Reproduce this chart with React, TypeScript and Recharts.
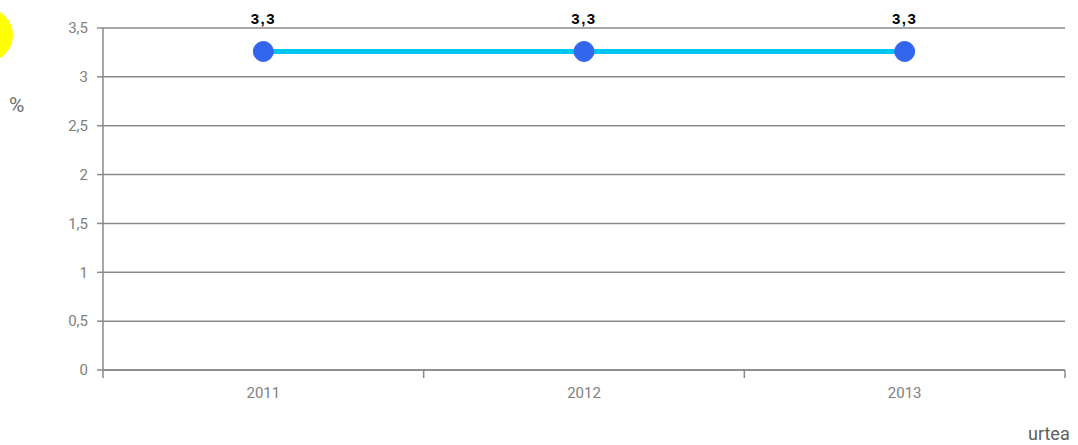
import React from 'react';
import { LineChart, Line, XAxis, YAxis, CartesianGrid, LabelList } from 'recharts';

// values
const years = ['2011', '2012', '2013'];
const values = [3.26, 3.26, 3.26];
const yTicks = [0, 0.5, 1, 1.5, 2, 2.5, 3, 3.5];

const data = years.map((year, i) => ({ year, val: values[i] }));

const comma = (v: number | string) => String(v).replace('.', ',');
const grey = '#8a8a8a';
const TICK_SIZE = 8;
const TICK_MARGIN = 9;

// category label plus tick marks on the band edges (offset = half band from the scale)
const YearTick = (props: any) => {
  const { x, y, payload, index, visibleTicksCount } = props;
  const half = payload?.offset ?? 0;
  const axisY = y - TICK_SIZE - TICK_MARGIN;
  const isLast = index === (visibleTicksCount ?? years.length) - 1;
  return (
    <g>
      <line x1={x - half} x2={x - half} y1={axisY} y2={axisY + TICK_SIZE} stroke={grey} strokeWidth={1.5} />
      {isLast && <line x1={x + half} x2={x + half} y1={axisY} y2={axisY + TICK_SIZE} stroke={grey} strokeWidth={1.5} />}
      <text x={x} y={y} dy="0.71em" textAnchor="middle" fill="#808080" fontSize={15}>
        {payload.value}
      </text>
    </g>
  );
};

export default function App() {
  return (
    <div style={{ position: 'fixed', left: 0, top: 0, width: 1078, height: 445, background: '#fff', overflow: 'hidden', fontFamily: 'Roboto, sans-serif' }}>
      {/* yellow badge peeking in from the left edge */}
      <div style={{ position: 'absolute', left: -41, top: 8, width: 54, height: 54, borderRadius: '50%', background: '#ffff00' }} />
      <div style={{ position: 'absolute', left: 9, top: 93, fontSize: 21, color: '#707070' }}>%</div>
      <div style={{ position: 'absolute', left: 1028, top: 423, fontSize: 18, color: '#606060' }}>urtea</div>

      <LineChart width={1078} height={445} data={data} margin={{ top: 28, right: 13, left: 43, bottom: 44 }}>
        <CartesianGrid vertical={false} stroke={grey} strokeWidth={1.5} />
        <XAxis
          dataKey="year"
          scale="band"
          height={31}
          axisLine={{ stroke: grey, strokeWidth: 1.5 }}
          tickLine={false}
          tickSize={TICK_SIZE}
          tickMargin={TICK_MARGIN}
          tick={<YearTick />}
          interval={0}
        />
        <YAxis
          domain={[0, 3.5]}
          ticks={yTicks}
          width={60}
          tickSize={6}
          tickMargin={9}
          tickFormatter={comma}
          axisLine={{ stroke: grey, strokeWidth: 1.5 }}
          tickLine={{ stroke: grey, strokeWidth: 1.5 }}
          tick={{ fill: '#808080', fontSize: 15 }}
        />
        <Line
          dataKey="val"
          stroke="#00c6f2"
          strokeWidth={5}
          dot={{ r: 10, fill: '#3366ee', stroke: '#3366ee', strokeWidth: 1 }}
          activeDot={false}
          isAnimationActive={false}
        >
          <LabelList
            dataKey="val"
            position="top"
            offset={27}
            formatter={(v: any) => comma(Number(v).toFixed(1))}
            style={{ fill: '#000', fontSize: 15, fontWeight: 'bold', letterSpacing: 1.5, fontFamily: 'Liberation Sans, Arial, sans-serif' }}
          />
        </Line>
      </LineChart>
    </div>
  );
}
